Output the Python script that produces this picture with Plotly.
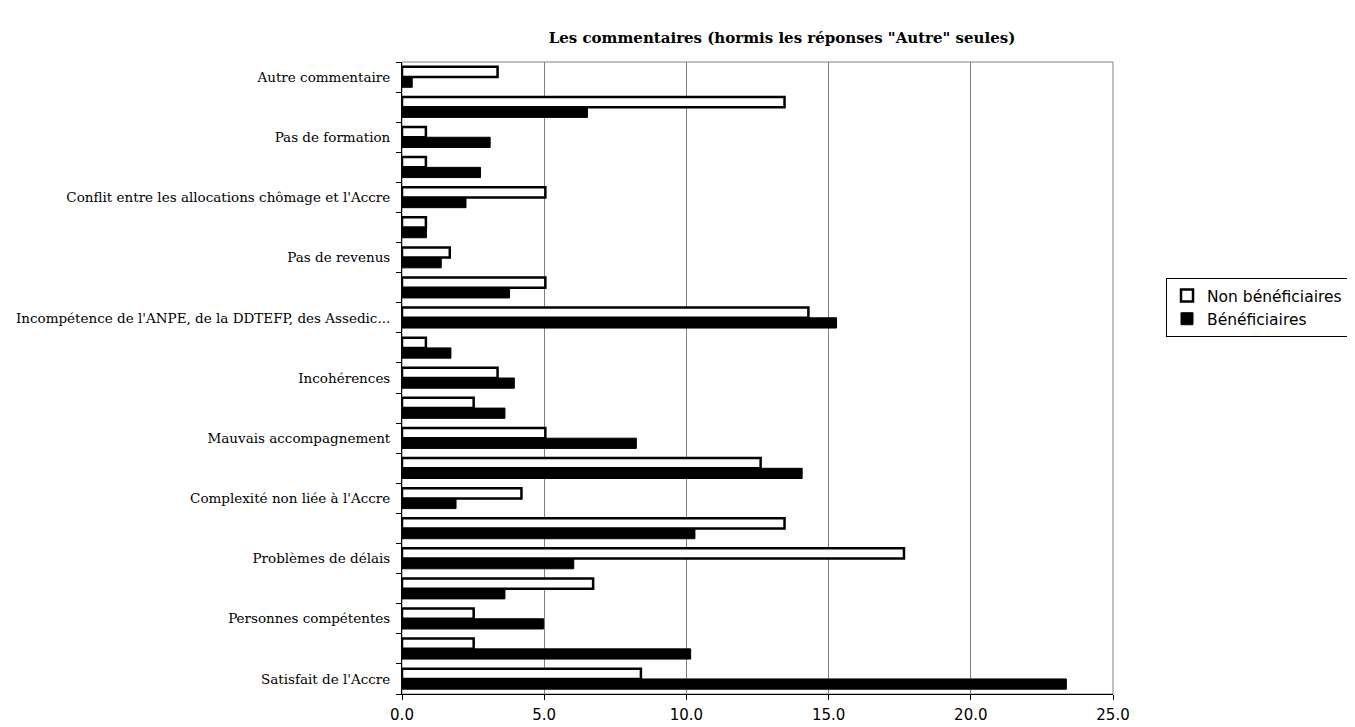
import plotly.graph_objects as go

# Categories, top to bottom (unlabelled rows have empty labels)
labels = [
    "Autre commentaire", "",
    "Pas de formation", "",
    "Conflit entre les allocations chômage et l'Accre", "",
    "Pas de revenus", "",
    "Incompétence de l'ANPE, de la DDTEFP, des Assedic...", "",
    "Incohérences", "",
    "Mauvais accompagnement", "",
    "Complexité non liée à l'Accre", "",
    "Problèmes de délais", "",
    "Personnes compétentes", "",
    "Satisfait de l'Accre",
]
cat_ids = [f"c{i:02d}" for i in range(len(labels))]

non_beneficiaires = [3.36, 13.45, 0.84, 0.84, 5.04, 0.84, 1.68, 5.04, 14.29, 0.84, 3.36,
                     2.52, 5.04, 12.61, 4.20, 13.45, 17.65, 6.72, 2.52, 2.52, 8.40]
beneficiaires = [0.36, 6.52, 3.10, 2.76, 2.25, 0.86, 1.38, 3.78, 15.28, 1.72, 3.95,
                 3.62, 8.24, 14.07, 1.90, 10.30, 6.04, 3.62, 4.98, 10.15, 23.36]

x_ticks = [0, 5, 10, 15, 20, 25]

fig = go.Figure()
fig.add_trace(go.Bar(
    y=cat_ids, x=non_beneficiaires, orientation="h", name="Non bénéficiaires",
    marker=dict(color="white", line=dict(color="black", width=2.5)),
))
fig.add_trace(go.Bar(
    y=cat_ids, x=beneficiaires, orientation="h", name="Bénéficiaires",
    marker=dict(color="black", line=dict(color="black", width=1)),
))

# page body has an 8px margin: compensate so the plot lands at the reference position
OFF = 8
L, R, T, B = 402 - OFF, 1113 - OFF, 62 - OFF, 694 - OFF
W, H = 1355 - OFF, 727 - OFF

fig.update_layout(
    width=W, height=H,
    margin=dict(l=L, r=W - R, t=T, b=H - B, pad=0, autoexpand=False),
    paper_bgcolor="white", plot_bgcolor="white",
    barmode="group", bargap=0.32, bargroupgap=0,
    showlegend=True,
    title=dict(
        text='Les commentaires (hormis les réponses "Autre" seules)',
        font=dict(family="DejaVu Serif", size=15, color="black", weight="bold"),
        x=(782 - OFF) / W, xanchor="center", xref="container",
        y=1 - (38 - OFF) / H, yanchor="middle", yref="container",
    ),
    legend=dict(
        x=(1166 - OFF - L) / (R - L), xanchor="left",
        y=(B - (278 - OFF)) / (B - T), yanchor="top",
        bordercolor="black", borderwidth=1, bgcolor="white",
        font=dict(family="DejaVu Sans", size=15.5, color="black"),
        itemwidth=30, tracegroupgap=0,
    ),
    xaxis=dict(
        range=[0, 25], tickvals=x_ticks, tickformat=".1f",
        showgrid=True, gridcolor="#808080", gridwidth=1,
        showline=True, linecolor="black", linewidth=1,
        ticks="outside", ticklen=5, tickcolor="black",
        ticklabelstandoff=2,
        tickfont=dict(family="DejaVu Sans", size=15, color="black"),
        zeroline=False, fixedrange=True, automargin=False,
    ),
    yaxis=dict(
        type="category", categoryorder="array", categoryarray=cat_ids,
        autorange="reversed",
        tickmode="array", tickvals=cat_ids, ticktext=labels,
        tickson="boundaries", ticks="outside", ticklen=5, tickcolor="black",
        ticklabelstandoff=8,
        showline=True, linecolor="black", linewidth=1,
        showgrid=False,
        tickfont=dict(family="DejaVu Serif", size=13.5, color="black"),
        fixedrange=True, automargin=False,
    ),
    shapes=[dict(type="rect", xref="paper", yref="paper", x0=0, x1=1, y0=0, y1=1,
                 line=dict(color="#808080", width=1), layer="below")],
)

fig.write_html("out.html")
